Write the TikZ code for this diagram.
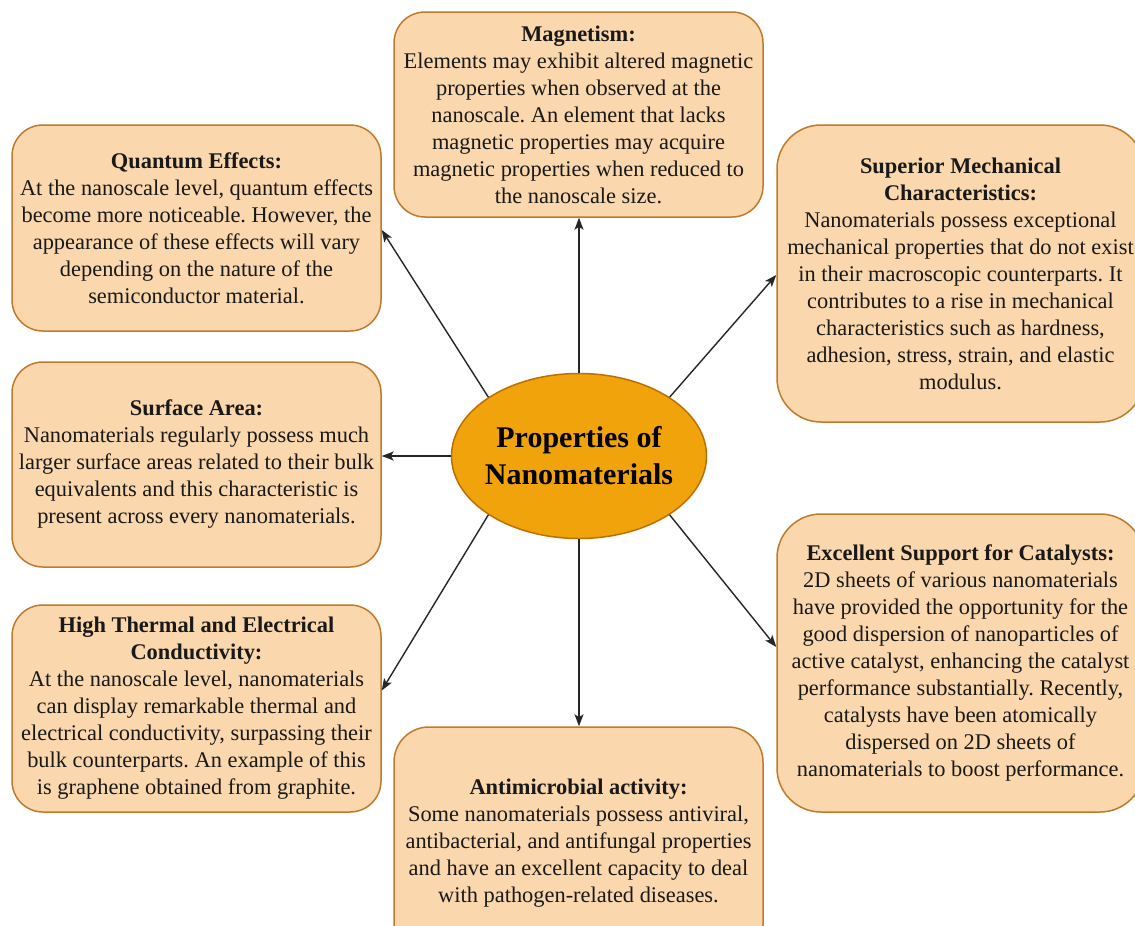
\documentclass[tikz,border=0pt]{standalone}
\usepackage{fontspec}
\setmainfont{Liberation Serif}
\usetikzlibrary{shapes.geometric,arrows.meta}
\definecolor{boxfill}{HTML}{FAD7AC}
\definecolor{boxline}{HTML}{C07A2E}
\definecolor{ellfill}{HTML}{F0A30A}
\definecolor{ellline}{HTML}{BD7000}
\tikzset{
  infobox/.style={draw=boxline, fill=boxfill, line width=1.5pt, align=center,
    inner sep=0pt, font=\frenchspacing\fontsize{22.4}{27}\selectfont, text=black!90},
  hub/.style={ellipse, draw=ellline, fill=ellfill, line width=1.5pt, align=center,
    inner xsep=-12pt, inner ysep=0pt, minimum width=255pt, minimum height=165pt,
    font=\bfseries\fontsize{30}{37}\selectfont},
  arr/.style={-{Stealth[length=12pt,width=9pt,inset=3pt]}, line width=1.4pt, black!85}
}
\begin{document}
\begin{tikzpicture}[x=1pt,y=-1pt]
\useasboundingbox (0,0) rectangle (1135,926);
\clip (0,0) rectangle (1135,926);
\fill[white] (0,0) rectangle (1135,926);

\node[infobox, minimum width=369pt, minimum height=206pt, rounded corners=31pt] (q) at (196.5,228)
  {\textbf{Quantum Effects:}\\At the nanoscale level, quantum effects\\become more noticeable. However, the\\appearance of these effects will vary\\depending on the nature of the\\semiconductor material.};

\node[infobox, minimum width=369pt, minimum height=205pt, rounded corners=31pt] (mag) at (578.5,114.5)
  {\textbf{Magnetism:}\\Elements may exhibit altered magnetic\\properties when observed at the\\nanoscale. An element that lacks\\magnetic properties may acquire\\magnetic properties when reduced to\\the nanoscale size.};

\node[infobox, minimum width=367pt, minimum height=297pt, rounded corners=44pt] (sup) at (960.5,273.5)
  {\textbf{Superior Mechanical}\\\textbf{Characteristics:}\\Nanomaterials possess exceptional\\mechanical properties that do not exist\\in their macroscopic counterparts. It\\contributes to a rise in mechanical\\characteristics such as hardness,\\adhesion, stress, strain, and elastic\\modulus.};

\node[infobox, minimum width=369pt, minimum height=205pt, rounded corners=31pt] (sa) at (196.5,464.5)
  {\textbf{Surface Area:}\\Nanomaterials regularly possess much\\larger surface areas related to their bulk\\equivalents and this characteristic is\\present across every nanomaterials.};

\node[infobox, minimum width=369pt, minimum height=207pt, rounded corners=31pt] (ht) at (196.5,708.5)
  {\textbf{High Thermal and Electrical}\\\textbf{Conductivity:}\\At the nanoscale level, nanomaterials\\can display remarkable thermal and\\electrical conductivity, surpassing their\\bulk counterparts. An example of this\\is graphene obtained from graphite.};

\node[infobox, minimum width=369pt, minimum height=233pt, rounded corners=35pt] (am) at (578.5,843.5)
  {\textbf{Antimicrobial activity:}\\Some nanomaterials possess antiviral,\\antibacterial, and antifungal properties\\and have an excellent capacity to deal\\with pathogen-related diseases.};

\node[infobox, minimum width=367pt, minimum height=298pt, rounded corners=44pt] (cat) at (960.5,663)
  {\textbf{Excellent Support for Catalysts:}\\2D sheets of various nanomaterials\\have provided the opportunity for the\\good dispersion of nanoparticles of\\active catalyst, enhancing the catalyst\\performance substantially. Recently,\\catalysts have been atomically\\dispersed on 2D sheets of\\nanomaterials to boost performance.};

\node[hub] (c) at (579,456) {Properties of\\Nanomaterials};

\draw[arr] (c.north) -- (c.north |- mag.south);
\draw[arr] (c.south) -- (c.south |- am.north);
\draw[arr] (c.west) -- (c.west -| sa.east);
\draw[arr] (c.147) -- ([yshift=-2pt]q.east);
\draw[arr] (c.33) -- ([yshift=-1.5pt]sup.west);
\draw[arr] (c.213) -- ([yshift=18pt]ht.east);
\draw[arr] (c.327) -- ([yshift=16pt]cat.west);
\end{tikzpicture}
\end{document}
